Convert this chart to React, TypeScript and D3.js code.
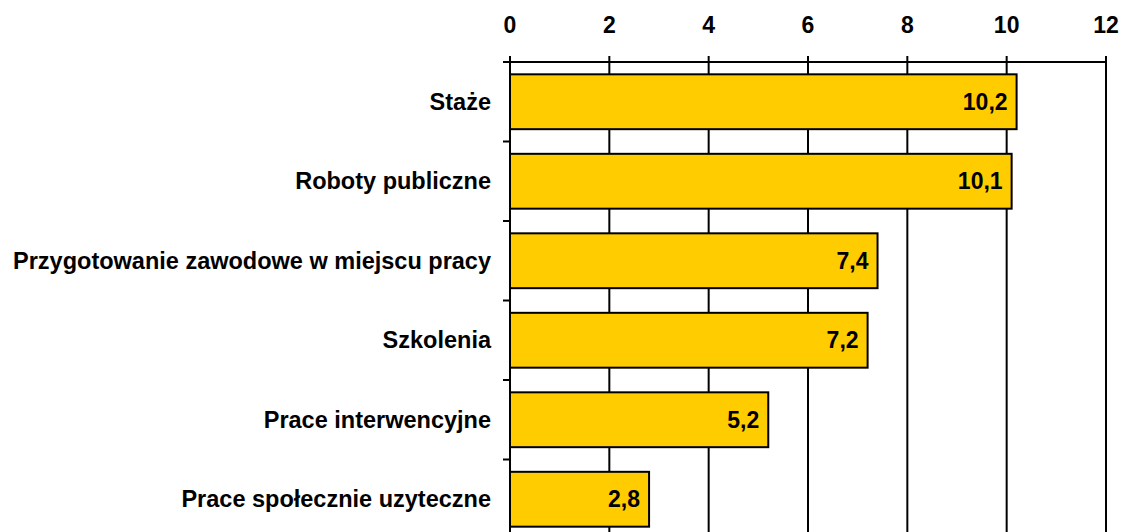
import React from "react";
import * as d3 from "d3";

const categories = [
  "Staże",
  "Roboty publiczne",
  "Przygotowanie zawodowe w miejscu pracy",
  "Szkolenia",
  "Prace interwencyjne",
  "Prace społecznie uzyteczne",
];
const values = [10.2, 10.1, 7.4, 7.2, 5.2, 2.8];
const xTicks = [0, 2, 4, 6, 8, 10, 12];

const W = 1123;
const H = 532;
const FONT = "'Liberation Sans', Arial, sans-serif";

export default function App() {
  const x = d3.scaleLinear().domain([0, 12]).range([510, 1106]);
  const y = d3
    .scaleBand<string>()
    .domain(categories)
    .range([62, 62 + 79.5 * categories.length])
    .paddingInner(0.31)
    .paddingOuter(0.155);
  const bottom = 62 + 79.5 * categories.length;
  const fmt = (v: number) => v.toFixed(1).replace(".", ",");
  const bandStep = 79.5;

  return (
    <svg
      width={W}
      height={H}
      style={{ position: "absolute", left: 0, top: 0, background: "#fff" }}
      fontFamily={FONT}
    >
      {/* vertical grid lines */}
      {xTicks.map((t) => (
        <line
          key={"g" + t}
          x1={x(t)}
          x2={x(t)}
          y1={56}
          y2={bottom}
          stroke="#000"
          strokeWidth={2}
        />
      ))}
      {/* top axis line */}
      <line x1={x(0)} x2={x(12)} y1={62} y2={62} stroke="#000" strokeWidth={2} />
      {/* left axis ticks */}
      {d3.range(categories.length + 1).map((i) => (
        <line
          key={"lt" + i}
          x1={503}
          x2={x(0)}
          y1={62 + i * bandStep}
          y2={62 + i * bandStep}
          stroke="#000"
          strokeWidth={2}
        />
      ))}
      {/* x tick labels */}
      {xTicks.map((t) => (
        <text
          key={"xl" + t}
          x={x(t)}
          y={33}
          textAnchor="middle"
          fontSize={23}
          fontWeight="bold"
          fill="#000"
        >
          {t}
        </text>
      ))}
      {/* bars */}
      {categories.map((c, i) => (
        <g key={c}>
          <rect
            x={x(0)}
            y={y(c)!}
            width={x(values[i]) - x(0)}
            height={y.bandwidth()}
            fill="#FFCC00"
            stroke="#000"
            strokeWidth={2}
          />
          <text
            x={x(values[i]) - 9}
            y={y(c)! + y.bandwidth() / 2 + 8}
            textAnchor="end"
            fontSize={23}
            fontWeight="bold"
            fill="#000"
          >
            {fmt(values[i])}
          </text>
          <text
            x={491}
            y={y(c)! + y.bandwidth() / 2 + 8}
            textAnchor="end"
            fontSize={23.5}
            fontWeight="bold"
            fill="#000"
          >
            {c}
          </text>
        </g>
      ))}
    </svg>
  );
}
